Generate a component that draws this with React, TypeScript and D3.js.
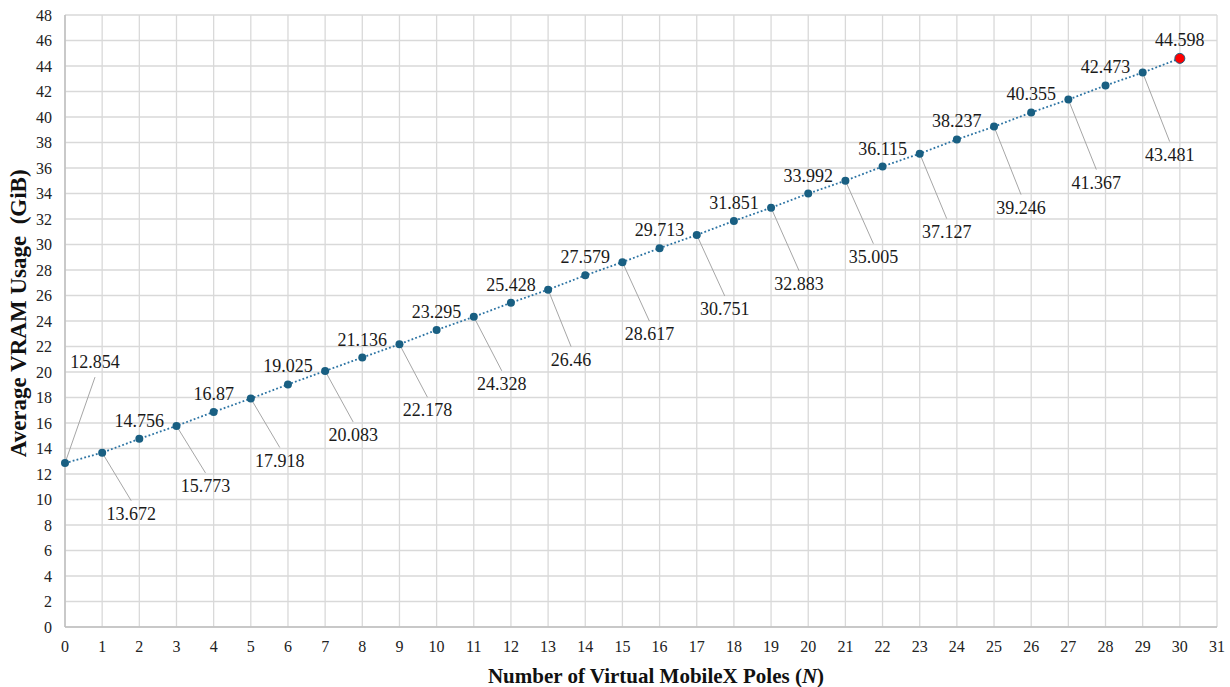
import React, { useEffect, useRef } from 'react';
import * as d3 from 'd3';

// number of virtual poles on the x axis
const poles = [0, 1, 2, 3, 4, 5, 6, 7, 8, 9, 10, 11, 12, 13, 14, 15, 16, 17, 18, 19, 20, 21, 22, 23, 24, 25, 26, 27, 28, 29, 30];

// average VRAM usage in GiB
const vramUsage = [
  12.854, 13.672, 14.756, 15.773, 16.87, 17.918, 19.025, 20.083, 21.136, 22.178,
  23.295, 24.328, 25.428, 26.46, 27.579, 28.617, 29.713, 30.751, 31.851, 32.883,
  33.992, 35.005, 36.115, 37.127, 38.237, 39.246, 40.355, 41.367, 42.473, 43.481, 44.598
];

const xTicks = [0, 1, 2, 3, 4, 5, 6, 7, 8, 9, 10, 11, 12, 13, 14, 15, 16, 17, 18, 19, 20, 21, 22, 23, 24, 25, 26, 27, 28, 29, 30, 31];
const yTicks = [0, 2, 4, 6, 8, 10, 12, 14, 16, 18, 20, 22, 24, 26, 28, 30, 32, 34, 36, 38, 40, 42, 44, 46, 48];

// hand placed labels with leader lines (px offset from the point)
const leaderOffsets: Record<number, [number, number]> = {
  0: [30, -101], 1: [29, 61], 3: [29, 60], 5: [29, 62], 7: [28, 64], 9: [28, 66],
  11: [28, 67], 13: [23, 70], 15: [27, 72], 17: [28, 74], 19: [28, 76], 21: [28, 76],
  23: [27, 78], 25: [27, 81], 27: [28, 83], 29: [27, 82]
};

const WIDTH = 1230;
const HEIGHT = 687;
const margin = { top: 15, right: 13, bottom: 60, left: 65 };

const App = () => {
  const svgRef = useRef<SVGSVGElement>(null);

  useEffect(() => {
    const svg = d3.select(svgRef.current);
    svg.selectAll('*').remove();

    const innerW = WIDTH - margin.left - margin.right;
    const innerH = HEIGHT - margin.top - margin.bottom;

    const x = d3.scaleLinear().domain([0, 31]).range([margin.left, margin.left + innerW]);
    const y = d3.scaleLinear().domain([0, 48]).range([margin.top + innerH, margin.top]);

    const font = '"Liberation Serif", "Times New Roman", serif';

    // grid
    const grid = svg.append('g');
    grid.selectAll('line.h')
      .data(yTicks)
      .enter()
      .append('line')
      .attr('x1', x(0)).attr('x2', x(31))
      .attr('y1', d => y(d)).attr('y2', d => y(d))
      .attr('stroke', '#d9d9d9')
      .attr('stroke-width', 1.3);
    grid.selectAll('line.v')
      .data(xTicks)
      .enter()
      .append('line')
      .attr('y1', y(0)).attr('y2', y(48))
      .attr('x1', d => x(d)).attr('x2', d => x(d))
      .attr('stroke', '#d9d9d9')
      .attr('stroke-width', 1.3);

    // axis lines
    svg.append('line')
      .attr('x1', x(0)).attr('x2', x(31))
      .attr('y1', y(0)).attr('y2', y(0))
      .attr('stroke', '#bfbfbf').attr('stroke-width', 1.5);
    svg.append('line')
      .attr('x1', x(0)).attr('x2', x(0))
      .attr('y1', y(0)).attr('y2', y(48))
      .attr('stroke', '#bfbfbf').attr('stroke-width', 1.5);

    // tick labels
    svg.append('g')
      .selectAll('text')
      .data(yTicks)
      .enter()
      .append('text')
      .attr('x', x(0) - 13)
      .attr('y', d => y(d))
      .attr('text-anchor', 'end')
      .attr('dominant-baseline', 'central')
      .style('font-family', font)
      .attr('font-size', 16)
      .attr('fill', '#222')
      .text(d => d);

    svg.append('g')
      .selectAll('text')
      .data(xTicks)
      .enter()
      .append('text')
      .attr('x', d => x(d))
      .attr('y', y(0) + 19)
      .attr('text-anchor', 'middle')
      .attr('dominant-baseline', 'central')
      .style('font-family', font)
      .attr('font-size', 16)
      .attr('fill', '#222')
      .text(d => d);

    // axis titles
    const xTitle = svg.append('text')
      .attr('x', 656)
      .attr('y', 676)
      .attr('text-anchor', 'middle')
      .attr('dominant-baseline', 'central')
      .style('font-family', font)
      .attr('font-size', 21)
      .attr('font-weight', 'bold')
      .attr('fill', '#111');
    xTitle.append('tspan').text('Number of Virtual MobileX Poles (');
    xTitle.append('tspan').attr('font-style', 'italic').text('N');
    xTitle.append('tspan').text(')');

    svg.append('text')
      .attr('transform', `translate(18,${y(24.6)}) rotate(-90)`)
      .attr('text-anchor', 'middle')
      .attr('dominant-baseline', 'central')
      .style('font-family', font)
      .attr('font-size', 23)
      .attr('font-weight', 'bold')
      .attr('fill', '#111')
      .style('white-space', 'pre')
      .text('Average VRAM Usage  (GiB)');

    // leader lines
    const last = poles.length - 1;
    poles.forEach((p, i) => {
      const off = leaderOffsets[i];
      if (!off) return;
      const px = x(p);
      const py = y(vramUsage[i]);
      const lx = px + off[0];
      const ly = py + off[1];
      svg.append('line')
        .attr('x1', px).attr('y1', py)
        .attr('x2', lx).attr('y2', off[1] < 0 ? ly + 15 : ly - 13)
        .attr('stroke', '#a6a6a6')
        .attr('stroke-width', 1);
    });

    // dotted series line
    const line = d3.line<number>()
      .x((d, i) => x(poles[i]))
      .y(d => y(d));
    svg.append('path')
      .datum(vramUsage)
      .attr('fill', 'none')
      .attr('stroke', '#2b73a3')
      .attr('stroke-width', 1.8)
      .attr('stroke-dasharray', '1.8,2.2')
      .attr('d', line);

    // markers
    svg.append('g')
      .selectAll('circle')
      .data(vramUsage)
      .enter()
      .append('circle')
      .attr('cx', (d, i) => x(poles[i]))
      .attr('cy', d => y(d))
      .attr('r', (d, i) => (i === last ? 5 : 4))
      .attr('fill', (d, i) => (i === last ? '#ff0000' : '#195f82'))
      .attr('stroke', (d, i) => (i === last ? '#1f5f80' : 'none'))
      .attr('stroke-width', 1);

    // data labels
    svg.append('g')
      .selectAll('text')
      .data(vramUsage)
      .enter()
      .append('text')
      .attr('x', (d, i) => x(poles[i]) + (leaderOffsets[i] ? leaderOffsets[i][0] : 0))
      .attr('y', (d, i) => y(d) + (leaderOffsets[i] ? leaderOffsets[i][1] : -18))
      .attr('text-anchor', 'middle')
      .attr('dominant-baseline', 'central')
      .style('font-family', font)
      .attr('font-size', 18)
      .attr('fill', '#1a1a1a')
      .text(d => d);
  }, []);

  return (
    <svg
      ref={svgRef}
      width={WIDTH}
      height={HEIGHT}
      style={{ position: 'absolute', left: 0, top: 0, background: '#fff' }}
    />
  );
};

export default App;
